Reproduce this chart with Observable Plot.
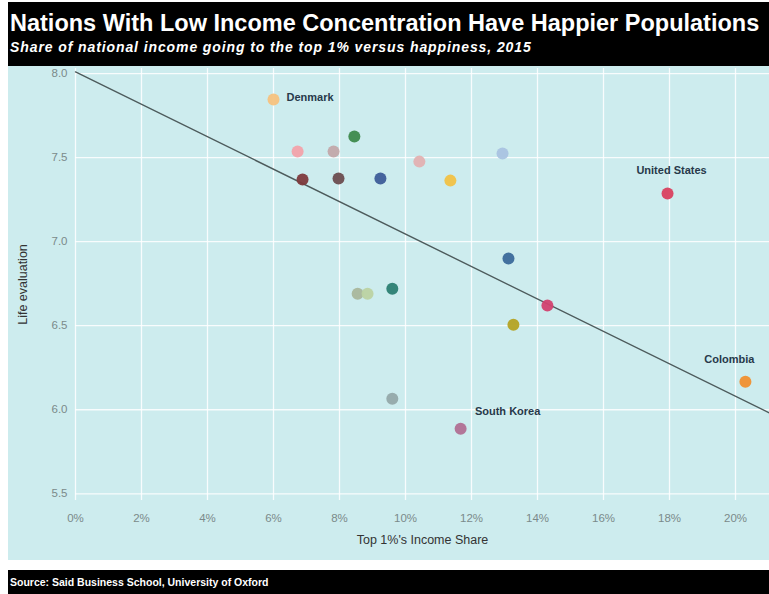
<!DOCTYPE html>
<html>
<head>
<meta charset="utf-8">
<script src="https://cdn.jsdelivr.net/npm/d3@7"></script>
<script src="https://cdn.jsdelivr.net/npm/@observablehq/plot@0.6"></script>
<style>
  html, body { margin: 0; padding: 0; background: #ffffff; }
  body { width: 769px; height: 594px; position: relative; overflow: hidden; font-family: "Liberation Sans", Arial, sans-serif; }
  #wrap { position: absolute; left: 8px; top: 0; width: 761px; }
  #head { position: relative; height: 64px; background: #000; border-bottom: 2px solid #3a3a3a; margin-top: 2px; }
  #title { position: absolute; left: 2px; top: 8px; color: #fff; font-weight: bold; font-size: 23.5px; white-space: nowrap; }
  #subtitle { position: absolute; left: 2px; top: 37px; color: #fff; font-weight: bold; font-style: italic; font-size: 14px; letter-spacing: 0.9px; white-space: nowrap; }
  #chart { position: absolute; left: 0; top: 66px; width: 761px; height: 494px; }
  #source { position: absolute; left: 8px; top: 570px; width: 761px; height: 24px; background: #000; color: #fff; font-weight: bold; font-size: 10.5px; line-height: 24px; padding-left: 2px; white-space: nowrap; box-sizing: border-box; }
</style>
</head>
<body>
<div id="wrap">
  <div id="head">
    <div id="title">Nations With Low Income Concentration Have Happier Populations</div>
    <div id="subtitle">Share of national income going to the top 1% versus happiness, 2015</div>
  </div>
  <div id="chart"></div>
</div>
<div id="source">Source: Said Business School, University of Oxford</div>
<script>
// Data
const topShare = [6.0, 6.73, 7.82, 8.45, 6.88, 7.97, 9.24, 10.42, 11.36, 12.94, 17.94, 13.12, 14.3, 13.27, 9.6, 8.55, 8.85, 9.6, 11.67, 20.3];
const lifeEval = [7.845, 7.536, 7.536, 7.625, 7.37, 7.375, 7.375, 7.476, 7.363, 7.524, 7.286, 6.899, 6.62, 6.506, 6.72, 6.69, 6.69, 6.065, 5.887, 6.167];
const country  = ["Denmark", "", "", "", "", "", "", "", "", "", "United States", "", "", "", "", "", "", "", "South Korea", "Colombia"];
const dotColor = ["#f6c27e", "#f2a3aa", "#c2a9aa", "#3d8a4c", "#7d3a3c", "#6b4d4f", "#3d5d98", "#e2b1b1", "#f1c244", "#a9c3e0", "#d9415f", "#3b6a9a", "#d2426f", "#b4a323", "#2b7f72", "#a9b79b", "#bcd3a2", "#93a9a9", "#b07092", "#f0902f"];
const xTicks = [0, 2, 4, 6, 8, 10, 12, 14, 16, 18, 20];
const yTicks = [5.5, 6.0, 6.5, 7.0, 7.5, 8.0];
const xTitle = "Top 1%'s Income Share";
const yTitle = "Life evaluation";
const trendIntercept = 8.01;
const trendSlope = -0.0965;
const xDomain = [0, 21.03];
const yDomain = [5.46, 8.03];

const points = topShare.map((x, i) => ({x, y: lifeEval[i], name: country[i], color: dotColor[i]}));
const trend = xDomain.map(x => ({x, y: trendIntercept + trendSlope * x}));
const lab = n => points.filter(d => d.name === n);
const labelStyle = { x: "x", y: "y", text: "name", fontWeight: "bold", fontSize: 11, fill: "#27394a" };

const chart = Plot.plot({
  width: 761,
  height: 494,
  marginLeft: 67,
  marginRight: 0,
  marginTop: 2,
  marginBottom: 60,
  style: { background: "#cdecee", fontFamily: "'Liberation Sans', Arial, sans-serif" },
  x: { domain: xDomain },
  y: { domain: yDomain },
  marks: [
    Plot.gridX(xTicks, { stroke: "#ffffff", strokeOpacity: 0.85, strokeWidth: 1.3 }),
    Plot.gridY(yTicks, { stroke: "#ffffff", strokeOpacity: 0.85, strokeWidth: 1.3 }),
    Plot.axisX(xTicks, { tickSize: 0, tickPadding: 13, tickFormat: d => d + "%", fontSize: 11.5, color: "#7b8a8a", label: null }),
    Plot.axisY(yTicks, { tickSize: 0, tickPadding: 8, tickFormat: d3.format(".1f"), fontSize: 11.5, color: "#7b8a8a", label: null }),
    Plot.text([xTitle], { frameAnchor: "bottom", text: d => d, dy: 43, fontSize: 12.5, fill: "#333333" }),
    Plot.text([yTitle], { frameAnchor: "left", textAnchor: "middle", text: d => d, dx: -53, rotate: -90, fontSize: 12.5, fill: "#333333" }),
    Plot.line(trend, { x: "x", y: "y", stroke: "#4d5b5c", strokeWidth: 1.4 }),
    Plot.dot(points, { x: "x", y: "y", r: 6, fill: "color", fillOpacity: 0.95 }),
    Plot.text(lab("Denmark"), { ...labelStyle, textAnchor: "start", dx: 13, dy: -2 }),
    Plot.text(lab("United States"), { ...labelStyle, dx: 4, dy: -23 }),
    Plot.text(lab("Colombia"), { ...labelStyle, dx: -16, dy: -22 }),
    Plot.text(lab("South Korea"), { ...labelStyle, dx: 47, dy: -17 })
  ]
});
document.getElementById("chart").appendChild(chart);
</script>
</body>
</html>
